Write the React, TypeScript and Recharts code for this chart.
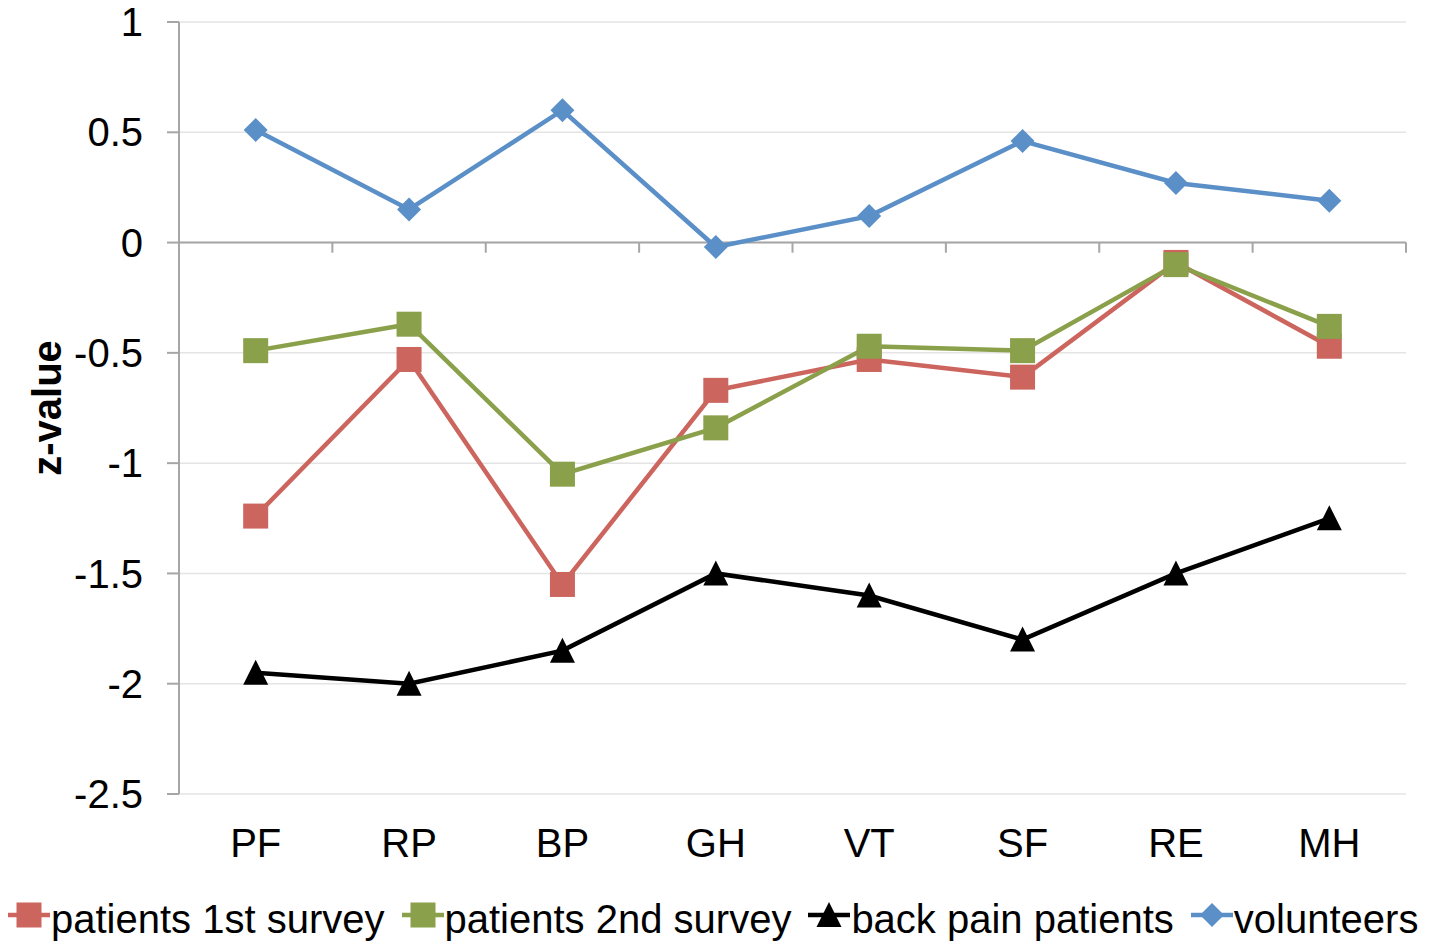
import React from 'react';
import { LineChart, Line, XAxis, YAxis, CartesianGrid, ReferenceLine, Legend } from 'recharts';

const categories = ['PF', 'RP', 'BP', 'GH', 'VT', 'SF', 'RE', 'MH'];
const patients1st = [-1.24, -0.53, -1.55, -0.67, -0.53, -0.61, -0.09, -0.47];
const patients2nd = [-0.49, -0.37, -1.05, -0.84, -0.47, -0.49, -0.1, -0.38];
const backPain = [-1.95, -2.0, -1.85, -1.5, -1.6, -1.8, -1.5, -1.25];
const volunteers = [0.51, 0.15, 0.6, -0.02, 0.12, 0.46, 0.27, 0.19];
const yTicks = [-2.5, -2, -1.5, -1, -0.5, 0, 0.5, 1];

const FONT = '"Liberation Sans", Arial, sans-serif';
const AXIS_GRAY = '#A6A6A6';

type Marker = 'square' | 'triangle' | 'diamond';

const series: { key: string; name: string; color: string; marker: Marker }[] = [
  { key: 'p1', name: 'patients 1st survey', color: '#CD655F', marker: 'square' },
  { key: 'p2', name: 'patients 2nd survey', color: '#8AA04B', marker: 'square' },
  { key: 'bp', name: 'back pain patients', color: '#000000', marker: 'triangle' },
  { key: 'vol', name: 'volunteers', color: '#5B8FC8', marker: 'diamond' },
];

const data = categories.map((c, i) => ({
  idx: i,
  cat: c,
  p1: patients1st[i],
  p2: patients2nd[i],
  bp: backPain[i],
  vol: volunteers[i],
}));

const boundaries = [...categories.map((_, i) => i - 0.5), categories.length - 0.5];

function MarkerShape({ type, cx, cy, color }: { type: Marker; cx: number; cy: number; color: string }) {
  if (type === 'square') {
    return <rect x={cx - 12.5} y={cy - 12.5} width={25} height={25} fill={color} />;
  }
  if (type === 'triangle') {
    return (
      <polygon
        points={`${cx},${cy - 13} ${cx + 12.5},${cy + 12} ${cx - 12.5},${cy + 12}`}
        fill={color}
      />
    );
  }
  return (
    <polygon
      points={`${cx},${cy - 12} ${cx + 12},${cy} ${cx},${cy + 12} ${cx - 12},${cy}`}
      fill={color}
    />
  );
}

const makeDot = (type: Marker, color: string) => (props: any) => {
  const { cx, cy, index } = props;
  if (cx == null || cy == null) return <g key={`d-${index}`} />;
  return (
    <g key={`d-${type}-${color}-${index}`}>
      <MarkerShape type={type} cx={cx} cy={cy} color={color} />
    </g>
  );
};

const renderLegend = () => (
  <div
    style={{
      display: 'flex',
      justifyContent: 'flex-start',
      alignItems: 'center',
      height: 46,
      lineHeight: '46px',
      paddingLeft: 8,
      fontFamily: FONT,
      fontSize: 40,
      color: '#000',
      whiteSpace: 'nowrap',
    }}
  >
    {series.map((s, i) => (
      <div
        key={s.key}
        style={{ display: 'flex', alignItems: 'center', marginRight: i < series.length - 1 ? 17 : 0 }}
      >
        <svg width={42} height={46} style={{ display: 'block', marginRight: 1 }}>
          <line x1={0} x2={42} y1={19} y2={19} stroke={s.color} strokeWidth={4.5} />
          <MarkerShape type={s.marker} cx={21} cy={19} color={s.color} />
        </svg>
        <span>{s.name}</span>
      </div>
    ))}
  </div>
);

const YLabel = (props: any) => {
  const vb = props.viewBox || { x: 0, y: 22, width: 179, height: 772 };
  const x = vb.x + 61;
  const y = vb.y + vb.height / 2;
  return (
    <text
      x={x}
      y={y}
      transform={`rotate(-90, ${x}, ${y})`}
      textAnchor="middle"
      fontFamily={FONT}
      fontSize={40}
      fontWeight="bold"
      fill="#000"
    >
      z-value
    </text>
  );
};

export default function App() {
  return (
    <div style={{ position: 'absolute', left: 0, top: 0, width: 1439, height: 942, background: '#fff' }}>
      <LineChart
        width={1439}
        height={942}
        data={data}
        margin={{ top: 22, right: 33, left: 0, bottom: 0 }}
      >
        <CartesianGrid horizontal vertical={false} stroke="#E4E4E4" strokeWidth={1.5} />
        <XAxis
          dataKey="idx"
          type="number"
          domain={[-0.5, categories.length - 0.5]}
          ticks={categories.map((_, i) => i)}
          tickFormatter={(v: number) => categories[v] ?? ''}
          axisLine={false}
          tickLine={false}
          tickSize={0}
          tickMargin={35}
          height={102}
          interval={0}
          tick={{ fill: '#000', fontSize: 40, fontFamily: FONT }}
        />
        <YAxis
          type="number"
          domain={[-2.5, 1]}
          ticks={yTicks}
          width={179}
          axisLine={{ stroke: AXIS_GRAY, strokeWidth: 2 }}
          tickLine={{ stroke: AXIS_GRAY, strokeWidth: 2 }}
          tickSize={12}
          tickMargin={24}
          interval={0}
          tick={{ fill: '#000', fontSize: 40, fontFamily: FONT }}
          label={<YLabel />}
        />
        <ReferenceLine y={0} stroke={AXIS_GRAY} strokeWidth={2} />
        {boundaries.map((b) => (
          <ReferenceLine
            key={`tk-${b}`}
            segment={[
              { x: b, y: 0 },
              { x: b, y: -0.046 },
            ]}
            stroke={AXIS_GRAY}
            strokeWidth={2}
            ifOverflow="visible"
          />
        ))}
        <Legend verticalAlign="bottom" content={renderLegend} wrapperStyle={{ left: 0, width: 1439 }} />
        {series.map((s) => (
          <Line
            key={s.key}
            type="linear"
            dataKey={s.key}
            name={s.name}
            stroke={s.color}
            strokeWidth={4.5}
            dot={makeDot(s.marker, s.color)}
            activeDot={false}
            isAnimationActive={false}
          />
        ))}
      </LineChart>
    </div>
  );
}
